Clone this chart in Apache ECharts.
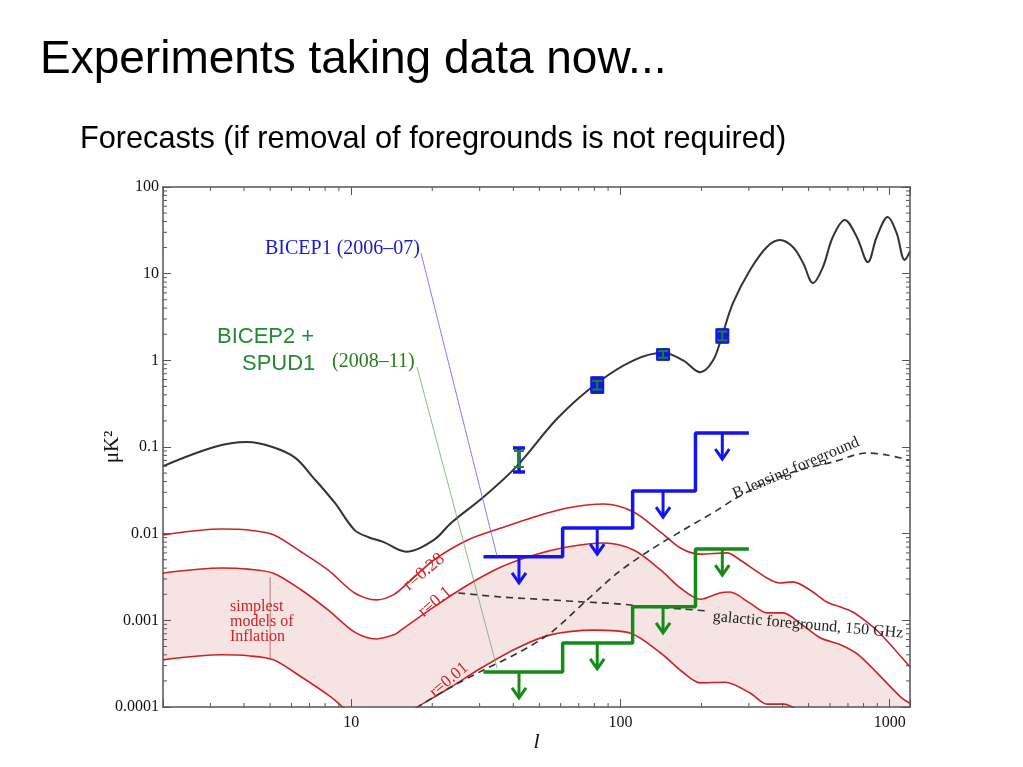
<!DOCTYPE html>
<html><head><meta charset="utf-8">
<script src="https://cdn.jsdelivr.net/npm/echarts@6/dist/echarts.min.js"></script>
<style>html,body{margin:0;padding:0;background:#fff}#c{width:1023px;height:767px}</style>
</head><body><div id="c"></div>
<script>
// ---- data ----
const eeL = [2,3.1,4.1,5.1,6.2,7.2,8.7,10.3,11.6,13.2,16,20.3,23.5,31,41,58.5,82,112,144,171,198,221,239,262,303,350,391,437,477,519,565,615,681,755,830,895,984,1061,1137,1190];
const eeV = [0.060,0.100,0.114,0.100,0.075,0.045,0.0226,0.011,0.0091,0.008,0.0062,0.0085,0.0133,0.0265,0.059,0.216,0.548,1.0,1.22,1.0,0.73,1.0,1.96,4.59,11.0,20.3,24.4,20.3,13.3,7.8,11.9,26.5,41.6,26.5,13.6,26.5,45,29.5,14.4,18];

const r028L = [2,3.3,4.15,5.14,6.53,8.2,10.3,12.4,14.4,16,20.3,27.1,36,47.8,63.4,86.7,112,141,167,198,249,278,350,391,437,506,584,653,729,822,918,1190];
const r028V = [0.00966,0.0113,0.011,0.0097,0.00615,0.00381,0.00207,0.00172,0.00198,0.0026,0.00497,0.00845,0.0116,0.0156,0.0198,0.022,0.0178,0.0104,0.00684,0.0058,0.006,0.00497,0.00308,0.0027,0.00278,0.00224,0.00163,0.00143,0.00125,0.00096,0.000715,0.00029];

const r01L = [2,3.3,4.15,5.14,6.53,8.2,10.3,12.4,14.4,15.3,20.3,27.1,36,47.8,63.4,86.7,112,141,167,198,234,255,303,350,402,464,551,660,774,1100,1190];
const r01V = [0.00352,0.00402,0.0039,0.0035,0.00224,0.00132,0.00073,0.00061,0.00068,0.00077,0.00143,0.00256,0.00412,0.00568,0.00702,0.0078,0.00648,0.00381,0.00236,0.00175,0.00207,0.00212,0.00158,0.00122,0.00122,0.00093,0.00063,0.00052,0.00039,0.00013,0.00011];

const r001L = [2,3.3,4.15,5.14,6.53,8.2,9.3,10.3,12.4,14.4,18.1,23.5,30.3,41.4,55,80,109,141,171,198,245,303,350,402,464,551,774,1190];
const r001V = [0.00035,0.0004,0.00039,0.00035,0.000222,0.000138,0.0001,0.000073,0.000061,0.000068,0.000105,0.00017,0.00028,0.00048,0.00068,0.00077,0.00071,0.00042,0.00025,0.00019,0.000193,0.000145,0.000108,0.000108,0.00009,0.00006,0.00004,0.000011];

const lensL = [16,18.1,23.5,31,41.6,55,73,97.5,129,171,229,262,350,464,615,822,975,1190];
const lensV = [0.00008,0.000105,0.00017,0.000267,0.00042,0.000715,0.00158,0.00352,0.00648,0.011,0.0187,0.0245,0.0395,0.0543,0.0671,0.0853,0.081,0.070];

const galL = [25,36,55,73,97.5,129,171,210];
const galV = [0.00207,0.00186,0.00172,0.00163,0.00155,0.00143,0.00135,0.00128];

const binEdges = [31,61,111,190,300];
const binCenters = [42,82,144,239];
const bicep1Limit = [0.0054,0.0116,0.031,0.145];
const bicep2Limit = [0.000254,0.000548,0.00143,0.00665];

const bicep1Lo = [0.0515,0.43,1.035,1.63];
const bicep1Hi = [0.0975,0.625,1.32,2.24];
const bicep2Lo = [0.0587,0.46,1.07,1.70];
const bicep2Hi = [0.090,0.58,1.28,2.15];

const inflMarkL = 5;
const inflMarkV = [0.000368, 0.00316];

const xMinorTicks = [3,4,5,6,7,8,9,20,30,40,50,60,70,80,90,200,300,400,500,600,700,800,900];
const yMinorTicks = [0.0002,0.0003,0.0004,0.0005,0.0006,0.0007,0.0008,0.0009,
  0.002,0.003,0.004,0.005,0.006,0.007,0.008,0.009,
  0.02,0.03,0.04,0.05,0.06,0.07,0.08,0.09,
  0.2,0.3,0.4,0.5,0.6,0.7,0.8,0.9,
  2,3,4,5,6,7,8,9,
  20,30,40,50,60,70,80,90];

// ---- helpers ----
const zip = (a, b) => a.map((x, i) => [x, b[i]]);
const stepData = (lim) => binEdges.map((l, i) => [l, lim[Math.min(i, lim.length - 1)]]);
const isPow10 = (v) => { const lg = Math.log10(v); return Math.abs(lg - Math.round(lg)) < 1e-6; };
const fmtX = (v) => isPow10(v) ? String(Math.round(Math.pow(10, Math.round(Math.log10(v))))) : '';
const fmtY = (v) => {
  if (!isPow10(v)) return '';
  const e = Math.round(Math.log10(v));
  return e >= 0 ? String(Math.round(Math.pow(10, e))) : Math.pow(10, e).toFixed(-e);
};

const RED = '#cc2424', PINK = '#f6e4e4', BLUE = '#1414ee', GREEN = '#168a16', AX = '#555';
const SERIF = '"Liberation Serif", "DejaVu Serif", serif';
const SANS = '"Liberation Sans", Arial, sans-serif';

function arrowSeries(lim, color) {
  return {
    type: 'custom', z: 5, clip: false,
    data: zip(binCenters, lim),
    renderItem: (params, api) => {
      const p = api.coord([api.value(0), api.value(1)]);
      const len = 26, hw = 7, hh = 10;
      return { type: 'group', children: [
        { type: 'line', shape: { x1: p[0], y1: p[1], x2: p[0], y2: p[1] + len }, style: { stroke: color, lineWidth: 3 } },
        { type: 'polyline', shape: { points: [[p[0] - hw, p[1] + len - hh], [p[0], p[1] + len], [p[0] + hw, p[1] + len - hh]] }, style: { stroke: color, lineWidth: 3, fill: null } }
      ]};
    }
  };
}

function errSeries(lo, hi, color, lw, cap, boxFill) {
  return {
    type: 'custom', z: 6, clip: false,
    data: binCenters.map((l, i) => [l, lo[i], hi[i]]),
    encode: { x: 0, y: [1, 2] },
    renderItem: (params, api) => {
      const a = api.coord([api.value(0), api.value(2)]);
      const b = api.coord([api.value(0), api.value(1)]);
      const st = { stroke: color, lineWidth: lw };
      const kids = [];
      if (boxFill && (b[1] - a[1]) < 18) {
        kids.push({ type: 'rect', shape: { x: a[0] - cap - 1, y: a[1] - 1.5, width: 2 * cap + 2, height: b[1] - a[1] + 3 }, style: { fill: color } });
      }
      kids.push(
        { type: 'line', shape: { x1: a[0], y1: a[1], x2: b[0], y2: b[1] }, style: st },
        { type: 'line', shape: { x1: a[0] - cap, y1: a[1], x2: a[0] + cap, y2: a[1] }, style: st },
        { type: 'line', shape: { x1: b[0] - cap, y1: b[1], x2: b[0] + cap, y2: b[1] }, style: st });
      return { type: 'group', children: kids };
    }
  };
}

const chart = echarts.init(document.getElementById('c'), null, { renderer: 'canvas' });

const baseX = { type: 'log', logBase: 10, min: 2, max: 1190, splitLine: { show: false }, z: 10,
  axisLine: { show: true, lineStyle: { color: AX, width: 1.5 } },
  axisTick: { show: true, inside: true, length: 8, lineStyle: { color: AX, width: 1 } } };
const baseY = { type: 'log', logBase: 10, min: 0.0001, max: 100, splitLine: { show: false }, z: 10,
  axisLine: { show: true, lineStyle: { color: AX, width: 1.5 } },
  axisTick: { show: true, inside: true, length: 8, lineStyle: { color: AX, width: 1 } } };

const txt = (x, y, text, size, family, fill) => ({
  type: 'text', x: x, y: y, z: 100,
  style: { text: text, fontSize: size, fontFamily: family, fill: fill, textVerticalAlign: 'middle', verticalAlign: 'middle' }
});
const rtxt = (x, y, text, size, fill, deg) => ({
  type: 'text', x: x, y: y, z: 100, rotation: deg * Math.PI / 180,
  style: { text: text, fontSize: size, fontFamily: SERIF, fill: fill, textAlign: 'center', align: 'center', textVerticalAlign: 'middle', verticalAlign: 'middle' }
});

const option = {
  backgroundColor: '#fff',
  animation: false,
  grid: { left: 163, right: 113, top: 187, bottom: 60, containLabel: false },
  xAxis: [
    Object.assign({}, baseX, { position: 'bottom',
      axisLabel: { formatter: fmtX, fontFamily: SERIF, fontSize: 16, color: '#111', margin: 8 },
      name: 'l', nameLocation: 'middle', nameGap: 24, nameMoveOverlap: false,
      nameTextStyle: { fontFamily: SERIF, fontStyle: 'italic', fontSize: 22, color: '#111' } }),
    Object.assign({}, baseX, { position: 'top', axisLabel: { show: false } })
  ],
  yAxis: [
    Object.assign({}, baseY, { position: 'left',
      axisLabel: { formatter: fmtY, fontFamily: SERIF, fontSize: 16, color: '#111', margin: 4 },
      name: 'μK²', nameLocation: 'middle', nameGap: 40, nameRotate: 90, nameMoveOverlap: false,
      nameTextStyle: { fontFamily: SERIF, fontSize: 21, color: '#111' } }),
    Object.assign({}, baseY, { position: 'right', axisLabel: { show: false } })
  ],
  series: [
    { name: 'r=0.1', type: 'line', data: zip(r01L, r01V), smooth: 0.3, symbol: 'none', z: 1,
      lineStyle: { color: RED, width: 1.6 }, areaStyle: { color: PINK, opacity: 1, origin: 'start' } },
    { name: 'r=0.01', type: 'line', data: zip(r001L, r001V), smooth: 0.3, symbol: 'none', z: 1,
      lineStyle: { color: RED, width: 1.6 }, areaStyle: { color: '#ffffff', opacity: 1, origin: 'start' } },
    { name: 'r=0.28', type: 'line', data: zip(r028L, r028V), smooth: 0.3, symbol: 'none', z: 3,
      lineStyle: { color: RED, width: 1.6 } },
    { name: 'inflation mark', type: 'line', data: inflMarkV.map(v => [inflMarkL, v]), symbol: 'none', z: 3,
      lineStyle: { color: '#b07878', width: 1 } },
    { name: 'theory', type: 'line', data: zip(eeL, eeV), smooth: 0.35, symbol: 'none', z: 4,
      lineStyle: { color: '#333', width: 2 } },
    { name: 'lensing', type: 'line', data: zip(lensL, lensV), smooth: 0.3, symbol: 'none', z: 4,
      lineStyle: { color: '#333', width: 1.6, type: [7, 5] } },
    { name: 'galactic', type: 'line', data: zip(galL, galV), smooth: 0.3, symbol: 'none', z: 4,
      lineStyle: { color: '#333', width: 1.6, type: [7, 5] } },
    { name: 'BICEP1', type: 'line', data: stepData(bicep1Limit), step: 'end', symbol: 'none', z: 5,
      lineStyle: { color: BLUE, width: 3.5 } },
    { name: 'BICEP2', type: 'line', data: stepData(bicep2Limit), step: 'end', symbol: 'none', z: 5,
      lineStyle: { color: GREEN, width: 3.5 } },
    arrowSeries(bicep1Limit, BLUE),
    arrowSeries(bicep2Limit, GREEN),
    errSeries(bicep1Lo, bicep1Hi, BLUE, 3.5, 6, true),
    errSeries(bicep2Lo, bicep2Hi, GREEN, 2, 5, false),
    { type: 'custom', z: 10, clip: false, data: xMinorTicks.map(v => [v, 1]),
      renderItem: (params, api) => {
        const p = api.coord([api.value(0), api.value(1)]); const cs = params.coordSys;
        const st = { stroke: AX, lineWidth: 1 };
        return { type: 'group', children: [
          { type: 'line', shape: { x1: p[0], y1: cs.y + cs.height, x2: p[0], y2: cs.y + cs.height - 4 }, style: st },
          { type: 'line', shape: { x1: p[0], y1: cs.y, x2: p[0], y2: cs.y + 4 }, style: st } ] };
      } },
    { type: 'custom', z: 10, clip: false, data: yMinorTicks.map(v => [10, v]),
      renderItem: (params, api) => {
        const p = api.coord([api.value(0), api.value(1)]); const cs = params.coordSys;
        const st = { stroke: AX, lineWidth: 1 };
        return { type: 'group', children: [
          { type: 'line', shape: { x1: cs.x, y1: p[1], x2: cs.x + 4, y2: p[1] }, style: st },
          { type: 'line', shape: { x1: cs.x + cs.width, y1: p[1], x2: cs.x + cs.width - 4, y2: p[1] }, style: st } ] };
      } }
  ],
  graphic: {
    elements: [
      txt(40, 60, 'Experiments taking data now...', 46, SANS, '#000'),
      txt(80, 140, 'Forecasts (if removal of foregrounds is not required)', 30.7, SANS, '#000'),
      { type: 'line', z: 100, shape: { x1: 421, y1: 253, x2: 497, y2: 556 }, style: { stroke: '#6060ff', lineWidth: 0.8 } },
      { type: 'line', z: 100, shape: { x1: 417, y1: 367, x2: 497, y2: 668 }, style: { stroke: '#70a870', lineWidth: 0.8 } },
      txt(265, 249, 'BICEP1 (2006–07)', 20, SERIF, '#1a1acc'),
      txt(217, 337, 'BICEP2 +', 22, SANS, '#238a32'),
      txt(242, 364, 'SPUD1', 22, SANS, '#238a32'),
      txt(332, 362, '(2008–11)', 20, SERIF, '#2a7a1a'),
      rtxt(424, 572, 'r=0.28', 18, RED, 40),
      rtxt(435, 602, 'r=0.1', 17.5, RED, 40),
      rtxt(449, 680, 'r=0.01', 17, RED, 40),
      rtxt(796, 468, 'B lensing foreground', 16, '#222', 23),
      rtxt(808, 625, 'galactic foreground, 150 GHz', 16, '#222', -5),
      txt(230, 607, 'simplest', 16, SERIF, RED),
      txt(230, 622, 'models of', 16, SERIF, RED),
      txt(230, 637, 'Inflation', 16, SERIF, RED)
    ]
  }
};
chart.setOption(option);
</script>
</body></html>
